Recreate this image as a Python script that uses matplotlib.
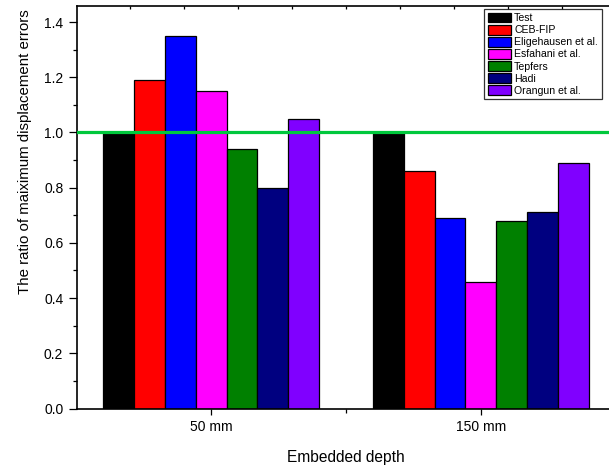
import matplotlib
matplotlib.use("Agg")
import matplotlib.pyplot as plt
import numpy as np
from matplotlib.ticker import MultipleLocator, FixedLocator

plt.rcParams["font.family"] = ["Liberation Sans", "DejaVu Sans"]

groups = ["50 mm", "150 mm"]
models = ["Test", "CEB-FIP", "Eligehausen et al.", "Esfahani et al.",
          "Tepfers", "Hadi", "Orangun et al."]
colors = ["#000000", "#FF0000", "#0000FF", "#FF00FF", "#008000", "#000080", "#8000FF"]
ratios = {
    "Test": [1.00, 1.00],
    "CEB-FIP": [1.19, 0.86],
    "Eligehausen et al.": [1.35, 0.69],
    "Esfahani et al.": [1.15, 0.46],
    "Tepfers": [0.94, 0.68],
    "Hadi": [0.80, 0.71],
    "Orangun et al.": [1.05, 0.89],
}

W, H = 609, 472
fig = plt.figure(figsize=(W / 100, H / 100), dpi=100)
# axes in pixel terms (right edge runs past the image, as in the original)
x0, x1, y0, y1 = 76.5, 615.5, 408.5, 6
ax = fig.add_axes([x0 / W, 1 - y0 / H, (x1 - x0) / W, (y0 - y1) / H])

xc = np.arange(1, len(groups) + 1)
bw = 0.8 / len(models)
for i, (m, c) in enumerate(zip(models, colors)):
    ax.bar(xc - 0.4 + bw * (i + 0.5), ratios[m], width=bw, color=c,
           edgecolor="black", linewidth=0.9, label=m, zorder=2)

ax.axhline(1.0, color="#00C83C", linewidth=2.3, zorder=3)

ax.set_xlim(0.5, 2.5)
ax.set_ylim(0, 1.458)
ax.set_xticks(xc)
ax.set_xticklabels(groups, fontsize=10)
ax.xaxis.set_minor_locator(FixedLocator([1.5]))
ax.yaxis.set_major_locator(MultipleLocator(0.2))
ax.yaxis.set_minor_locator(MultipleLocator(0.1))
ax.yaxis.set_major_formatter(matplotlib.ticker.FormatStrFormatter("%.1f"))
ax.tick_params(axis="y", which="major", direction="out", length=6, width=0.9, labelsize=10)
ax.tick_params(axis="y", which="minor", direction="out", length=3, width=0.9)
ax.tick_params(axis="x", which="major", direction="out", length=4.5, width=0.9)
ax.tick_params(axis="x", which="minor", direction="out", length=3, width=0.9)
for s in ax.spines.values():
    s.set_linewidth(1.2)

# inward ticks along the top frame
top = ax.secondary_xaxis("top")
top.set_xticks(np.arange(0.7, 2.5, 0.2))
top.tick_params(direction="in", length=2.5, width=0.9, labeltop=False)
top.spines["top"].set_visible(False)

ax.set_xlabel("Embedded depth", fontsize=11.2, labelpad=12)
ax.set_ylabel("The ratio of maiximum displacement errors", fontsize=10.8)
ax.yaxis.set_label_coords(-0.083, 0.637)

leg = ax.legend(loc="upper left", bbox_to_anchor=(484 / W, 1 - 9 / H),
                bbox_transform=fig.transFigure, fontsize=7.6, frameon=True,
                fancybox=False, borderpad=0.35, labelspacing=0.15,
                handlelength=2.2, handleheight=1.05, handletextpad=0.3,
                borderaxespad=0)
leg.get_frame().set_edgecolor("black")
leg.get_frame().set_linewidth(0.9)

fig.savefig("out.png", dpi=100)
